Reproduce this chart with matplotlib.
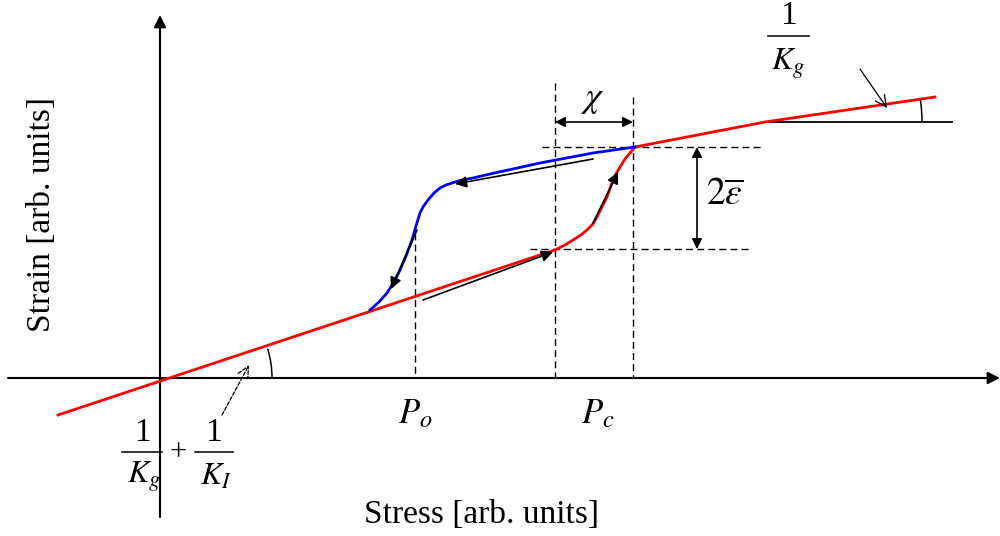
import matplotlib
matplotlib.use('agg')
import matplotlib.pyplot as plt
from matplotlib.patches import Arc

plt.rcParams['mathtext.fontset'] = 'stix'
plt.rcParams['font.family'] = ['Liberation Serif', 'DejaVu Serif']

# Curva de carga (rojo) y descarga (azul), unidades arbitrarias
stress_load = [-1.02, 3.95, 4.05, 4.13, 4.21, 4.27, 4.33, 4.37, 4.42, 4.47, 4.52, 4.56, 4.60,
               4.65, 4.70, 4.75, 6.05, 7.75]
strain_load = [-0.37, 1.28, 1.33, 1.38, 1.43, 1.48, 1.54, 1.61, 1.71, 1.81, 1.95, 2.04, 2.11,
               2.19, 2.25, 2.31, 2.56, 2.81]
stress_unload = [4.75, 4.33, 3.80, 3.30, 3.13, 3.02, 2.95, 2.86, 2.80, 2.74, 2.68, 2.63, 2.60,
                 2.56, 2.52, 2.46, 2.40, 2.34, 2.27, 2.19, 2.10]
strain_unload = [2.31, 2.25, 2.15, 2.04, 2.00, 1.98, 1.96, 1.93, 1.90, 1.85, 1.78, 1.71, 1.65,
                 1.52, 1.38, 1.22, 1.08, 0.96, 0.85, 0.76, 0.68]

# Flechas de sentido de recorrido (inicio, fin)
flechas = [((4.33, 2.19), (2.95, 1.94)),
           ((2.57, 1.48), (2.31, 0.89)),
           ((2.63, 0.78), (3.93, 1.26)),
           ((4.33, 1.55), (4.58, 2.06))]

P_o, P_c_low, P_c = 2.55, 3.95, 4.73
eps_low, eps_high = 1.29, 2.31

fig = plt.figure(figsize=(10, 5.36), dpi=100)
ax = fig.add_axes([0, 0, 1, 1])
ax.set_xlim(-1.6, 8.4)
ax.set_ylim(-1.58, 3.78)
ax.axis('off')

# Ejes con flecha
ax.annotate('', xy=(8.4, 0), xytext=(-1.52, 0),
            arrowprops=dict(arrowstyle='-|>', color='black', lw=1.5, mutation_scale=18, shrinkA=0, shrinkB=0))
ax.annotate('', xy=(0, 3.63), xytext=(0, -1.39),
            arrowprops=dict(arrowstyle='-|>', color='black', lw=1.5, mutation_scale=18, shrinkA=0, shrinkB=0))

# Líneas discontinuas
ls = (0, (5, 3))
ax.plot([P_o, P_o], [1.45, 0], color='black', lw=1, linestyle=ls)
ax.plot([P_c_low, P_c_low], [2.95, 0], color='black', lw=1, linestyle=ls)
ax.plot([P_c, P_c], [2.81, 0], color='black', lw=1, linestyle=ls)
ax.plot([3.82, 6.0], [eps_high, eps_high], color='black', lw=1, linestyle=ls)
ax.plot([3.70, 5.88], [eps_low, eps_low], color='black', lw=1, linestyle=ls)

# Curvas
ax.plot(stress_load, strain_load, color='#ff0000', lw=2, zorder=3)
ax.plot(stress_unload, strain_unload, color='#0000ff', lw=2, zorder=3)

for (x0, y0), (x1, y1) in flechas:
    ax.annotate('', xy=(x1, y1), xytext=(x0, y0),
                arrowprops=dict(arrowstyle='-|>', color='black', lw=1.2, mutation_scale=17, shrinkA=0, shrinkB=0),
                zorder=4)

# chi y 2*epsilon
ax.annotate('', xy=(P_c_low, 2.56), xytext=(P_c, 2.56),
            arrowprops=dict(arrowstyle='<|-|>', color='black', lw=1.2, mutation_scale=15, shrinkA=0, shrinkB=0))
ax.text(4.33, 2.78, r'$\chi$', fontsize=26, ha='center', va='center')
ax.annotate('', xy=(5.37, eps_high), xytext=(5.37, eps_low),
            arrowprops=dict(arrowstyle='<|-|>', color='black', lw=1.2, mutation_scale=15, shrinkA=0, shrinkB=0))
ax.text(5.46, 1.82, r'$2\overline{\varepsilon}$', fontsize=27, ha='left', va='center')

# Ángulos y pendientes
ax.plot([6.10, 7.92], [2.56, 2.56], color='black', lw=1.3)
ax.add_patch(Arc((6.10, 2.56), 3.04, 3.04, theta1=0, theta2=9, color='black', lw=1.1))
ax.add_patch(Arc((0.12, 0), 2.0, 2.0, theta1=0, theta2=17, color='black', lw=1.1))
ax.annotate('', xy=(7.27, 2.70), xytext=(7.00, 3.09),
            arrowprops=dict(arrowstyle='->', color='black', lw=0.9, mutation_scale=20, shrinkA=0, shrinkB=0))
ax.annotate('', xy=(0.89, 0.13), xytext=(0.62, -0.37),
            arrowprops=dict(arrowstyle='->', color='black', lw=0.9, linestyle=(0, (3, 1.5)),
                            mutation_scale=20, shrinkA=0, shrinkB=0))

# Fracciones 1/Kg + 1/KI
ax.text(-0.18, -0.55, '1', fontsize=24, ha='center', va='center')
ax.plot([-0.38, 0.02], [-0.74, -0.74], color='black', lw=1.1)
ax.text(-0.16, -0.99, r'$K_g$', fontsize=23, ha='center', va='center')
ax.text(0.18, -0.75, '+', fontsize=22, ha='center', va='center')
ax.text(0.53, -0.55, '1', fontsize=24, ha='center', va='center')
ax.plot([0.35, 0.73], [-0.74, -0.74], color='black', lw=1.1)
ax.text(0.56, -0.99, r'$K_I$', fontsize=23, ha='center', va='center')

ax.text(6.28, 3.62, '1', fontsize=24, ha='center', va='center')
ax.plot([6.08, 6.49], [3.42, 3.42], color='black', lw=1.1)
ax.text(6.28, 3.14, r'$K_g$', fontsize=23, ha='center', va='center')

# Etiquetas
ax.text(P_o, -0.37, r'$P_o$', fontsize=25, ha='center', va='center')
ax.text(4.38, -0.37, r'$P_c$', fontsize=25, ha='center', va='center')
ax.text(3.22, -1.37, 'Stress [arb. units]', fontsize=24, ha='center', va='center')
ax.text(-1.18, 1.63, 'Strain [arb. units]', fontsize=24, ha='center', va='center', rotation=90)

fig.savefig('out.png', dpi=100)
